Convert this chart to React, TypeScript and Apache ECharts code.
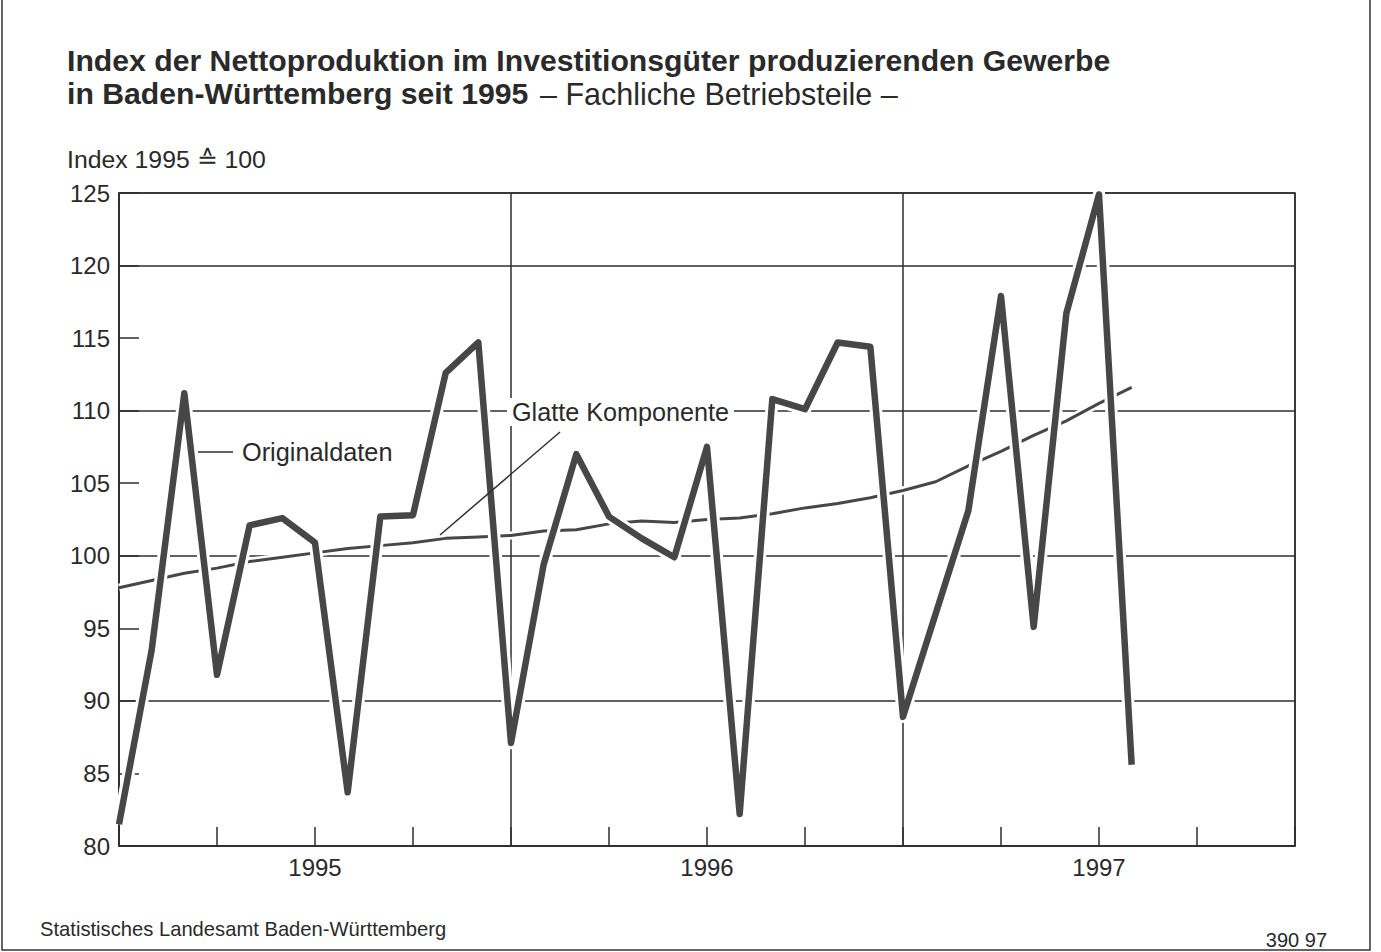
import React, { useEffect, useRef } from "react";
import * as echarts from "echarts";

// Monthly observations Jan 1995 – Aug 1997
const months = [
  "1995-01", "1995-02", "1995-03", "1995-04", "1995-05", "1995-06",
  "1995-07", "1995-08", "1995-09", "1995-10", "1995-11", "1995-12",
  "1996-01", "1996-02", "1996-03", "1996-04", "1996-05", "1996-06",
  "1996-07", "1996-08", "1996-09", "1996-10", "1996-11", "1996-12",
  "1997-01", "1997-02", "1997-03", "1997-04", "1997-05", "1997-06",
  "1997-07", "1997-08",
];

const originaldaten = [
  81.5, 93.5, 111.2, 91.8, 102.1, 102.6, 100.9, 83.7, 102.7, 102.8, 112.6, 114.7,
  87.1, 99.4, 107.0, 102.7, 101.2, 99.9, 107.5, 82.2, 110.8, 110.1, 114.7, 114.4,
  88.9, 96.0, 103.1, 117.9, 95.1, 116.7, 124.9, 85.6,
];

const glatteKomponente = [
  97.8, 98.3, 98.8, 99.15, 99.6, 99.9, 100.2, 100.5, 100.7, 100.9, 101.2, 101.3,
  101.4, 101.7, 101.8, 102.2, 102.4, 102.3, 102.5, 102.6, 102.9, 103.3, 103.6, 104.0,
  104.5, 105.1, 106.2, 107.2, 108.3, 109.3, 110.5, 111.6,
];

const yearLabels = ["1995", "1996", "1997"];
const monthsPerYear = 12;
const yMin = 80;
const yMax = 125;

const FONT = '"Liberation Sans", Arial, Helvetica, sans-serif';
const INK = "#2a2a2a";
const LINE = "#474747";

export default function App() {
  const ref = useRef<HTMLDivElement>(null);

  useEffect(() => {
    document.body.style.margin = "0";
    const chart = echarts.init(ref.current as HTMLDivElement, null, { renderer: "svg" });
    const xMax = yearLabels.length * monthsPerYear;
    const orig = originaldaten.map((v, i) => [i, v]);
    const glatt = glatteKomponente.map((v, i) => [i, v]);

    const txt = (text: string, x: number, y: number, size: number, weight: string = "normal", align: string = "left") => ({
      type: "text",
      x,
      y,
      z: 20,
      style: {
        text,
        fill: INK,
        fontFamily: FONT,
        fontSize: size,
        fontWeight: weight,
        align,
        verticalAlign: "middle",
      },
    });

    const option: any = {
      animation: false,
      backgroundColor: "#ffffff",
      grid: {
        left: 119,
        top: 193,
        width: 1176,
        height: 653,
        show: true,
        borderColor: "#2e2e2e",
        borderWidth: 1.5,
        backgroundColor: "transparent",
      },
      xAxis: [
        {
          type: "value",
          min: 0,
          max: xMax,
          interval: 3,
          axisLine: { show: true, lineStyle: { color: "#2e2e2e", width: 1.5 } },
          axisTick: { show: true, inside: true, length: 19, lineStyle: { color: "#2e2e2e", width: 1.5 } },
          axisLabel: {
            show: true,
            margin: 9,
            fontSize: 24,
            fontFamily: FONT,
            color: INK,
            formatter: (v: number) =>
              v % monthsPerYear === monthsPerYear / 2 ? yearLabels[(v - monthsPerYear / 2) / monthsPerYear] || "" : "",
          },
          splitLine: { show: false },
        },
        {
          type: "value",
          min: 0,
          max: xMax,
          interval: monthsPerYear,
          axisLine: { show: false },
          axisTick: { show: false },
          axisLabel: { show: false },
          splitLine: { show: true, lineStyle: { color: "#2e2e2e", width: 1.5 } },
        },
      ],
      yAxis: [
        {
          type: "value",
          min: yMin,
          max: yMax,
          interval: 5,
          axisLine: { show: true, lineStyle: { color: "#2e2e2e", width: 1.5 } },
          axisTick: { show: true, inside: true, length: 20, lineStyle: { color: "#2e2e2e", width: 1.5 } },
          axisLabel: { show: true, margin: 9, fontSize: 24, fontFamily: FONT, color: INK },
          splitLine: { show: false },
        },
        {
          type: "value",
          min: yMin,
          max: yMax,
          interval: 10,
          axisLine: { show: false },
          axisTick: { show: false },
          axisLabel: { show: false },
          splitLine: { show: true, lineStyle: { color: "#2e2e2e", width: 1.5 } },
        },
      ],
      series: [
        {
          name: "halo-glatt",
          type: "line",
          data: glatt,
          symbol: "none",
          silent: true,
          z: 2,
          lineStyle: { color: "#ffffff", width: 8, join: "round" },
        },
        {
          name: "Glatte Komponente",
          type: "line",
          data: glatt,
          symbol: "none",
          z: 3,
          lineStyle: { color: LINE, width: 3, join: "round" },
        },
        {
          name: "halo-orig",
          type: "line",
          data: orig,
          symbol: "none",
          silent: true,
          z: 4,
          lineStyle: { color: "#ffffff", width: 12.5, join: "round" },
        },
        {
          name: "Originaldaten",
          type: "line",
          data: orig,
          symbol: "none",
          z: 5,
          lineStyle: { color: LINE, width: 6.5, join: "round" },
        },
      ],
      graphic: [
        {
          type: "rect",
          z: 1,
          shape: { x: 2, y: -10, width: 1368, height: 960 },
          style: { fill: "none", stroke: "#333", lineWidth: 1.5 },
        },
        txt("Index der Nettoproduktion im Investitionsgüter produzierenden Gewerbe", 67, 60, 30.2, "bold"),
        txt("in Baden-Württemberg seit 1995", 67, 93, 30.2, "bold"),
        txt("– Fachliche Betriebsteile –", 540, 94, 30.5),
        txt("Index 1995 ≙ 100", 67, 159, 24.8),
        {
          type: "line",
          z: 20,
          shape: { x1: 198, y1: 452, x2: 233, y2: 452 },
          style: { stroke: "#2e2e2e", lineWidth: 1.5 },
        },
        txt("Originaldaten", 242, 452, 25.3),
        {
          type: "rect",
          z: 19,
          shape: { x: 507, y: 398, width: 227, height: 28 },
          style: { fill: "#ffffff", stroke: "none" },
        },
        txt("Glatte Komponente", 512, 412, 25.2),
        {
          type: "line",
          z: 20,
          shape: { x1: 560, y1: 432, x2: 440, y2: 535 },
          style: { stroke: "#2e2e2e", lineWidth: 1.5 },
        },
        txt("Statistisches Landesamt Baden-Württemberg", 40, 929, 20.2),
        txt("390 97", 1327, 940, 20),
      ].map((e: any) => e),
    };

    // right-align the reference number
    option.graphic[option.graphic.length - 1].style.align = "right";

    chart.setOption(option);
    return () => chart.dispose();
  }, []);

  return (
    <div
      ref={ref}
      style={{ position: "absolute", left: 0, top: 0, width: 1381, height: 952, background: "#fff" }}
    />
  );
}
